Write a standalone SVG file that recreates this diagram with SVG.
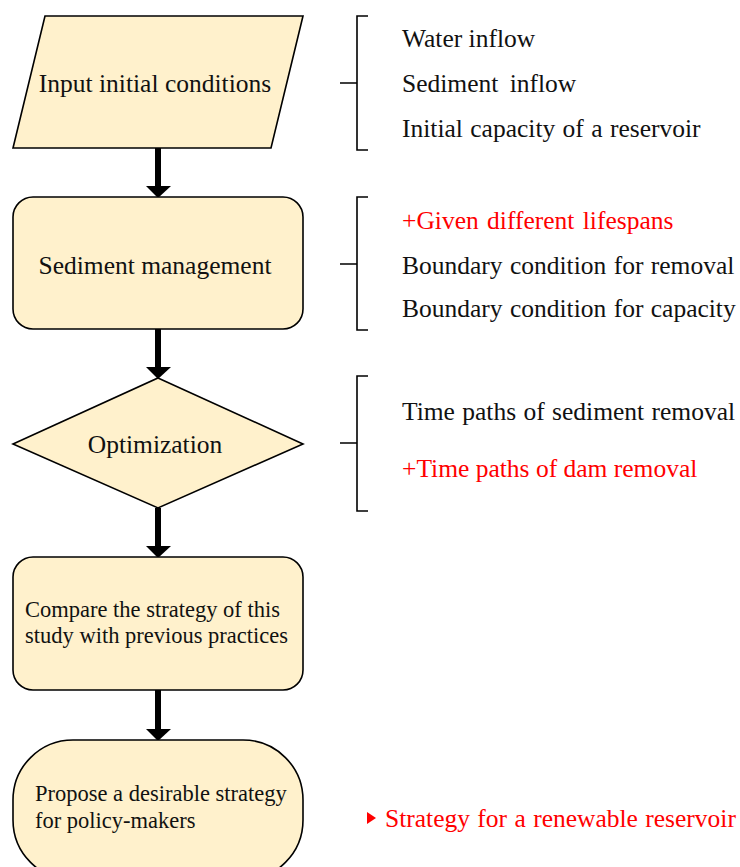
<svg xmlns="http://www.w3.org/2000/svg" width="740" height="867" viewBox="0 0 740 867">
<style>
.n{fill:#FFF1CC;stroke:#000;stroke-width:1.6}
.t{font-family:"Liberation Serif","Times New Roman",serif;font-size:25.5px;fill:#111}
.s{font-family:"Liberation Serif","Times New Roman",serif;font-size:22.5px;fill:#111}
.r{fill:#FF0000}
.br{fill:none;stroke:#000;stroke-width:1.6}
.sh{stroke:#000;stroke-width:6}
</style>
<rect width="740" height="867" fill="#fff"/>
<g id="connectors">
<line class="sh" x1="158" y1="148" x2="158" y2="187"/><polygon points="146,186 171,186 158,198"/>
<line class="sh" x1="158" y1="329" x2="158" y2="368"/><polygon points="146,367 171,367 158,379"/>
<line class="sh" x1="158" y1="508" x2="158" y2="547"/><polygon points="146,546 171,546 158,558"/>
<line class="sh" x1="158" y1="690" x2="158" y2="730"/><polygon points="146,729 171,729 158,741"/>
</g>
<g id="input">
<polygon class="n" points="45,16 303,16 271,148 13,148"/>
<text class="t" x="155" y="92" text-anchor="middle">Input initial conditions</text>
</g>
<g id="sediment">
<rect class="n" x="13" y="197" width="290" height="132" rx="20"/>
<text class="t" x="155" y="274" text-anchor="middle">Sediment management</text>
</g>
<g id="optimization">
<polygon class="n" points="158,378 303,444 158,508 13,444"/>
<text class="t" x="155" y="453" text-anchor="middle">Optimization</text>
</g>
<g id="compare">
<rect class="n" x="13" y="557" width="290" height="133" rx="20"/>
<text class="s" x="25" y="617">Compare the strategy of this</text>
<text class="s" x="25" y="643">study with previous practices</text>
</g>
<g id="propose">
<rect class="n" x="13" y="740" width="290" height="140" rx="60"/>
<text class="s" x="35" y="801">Propose a desirable strategy</text>
<text class="s" x="35" y="828">for policy-makers</text>
</g>
<g id="brace1">
<path class="br" d="M368,16 H357 V83 H340 M357,83 V150 H368"/>
<text class="t" x="402" y="47">Water inflow</text>
<text class="t" x="402" y="92" style="word-spacing:5px">Sediment inflow</text>
<text class="t" x="402" y="137" style="word-spacing:1px">Initial capacity of a reservoir</text>
</g>
<g id="brace2">
<path class="br" d="M368,197 H357 V264 H340 M357,264 V330 H368"/>
<text class="t r" x="402" y="229" style="word-spacing:2px">+Given different lifespans</text>
<text class="t" x="402" y="274" style="word-spacing:1px">Boundary condition for removal</text>
<text class="t" x="402" y="317" style="word-spacing:1px">Boundary condition for capacity</text>
</g>
<g id="brace3">
<path class="br" d="M368,376 H357 V443 H340 M357,443 V511 H368"/>
<text class="t" x="402" y="420" style="word-spacing:1px">Time paths of sediment removal</text>
<text class="t r" x="402" y="477">+Time paths of dam removal</text>
</g>
<g id="strategy">
<polygon class="r" points="367,812 376,818 367,824"/>
<text class="t r" x="385" y="827" style="word-spacing:1px">Strategy for a renewable reservoir</text>
</g>
</svg>
